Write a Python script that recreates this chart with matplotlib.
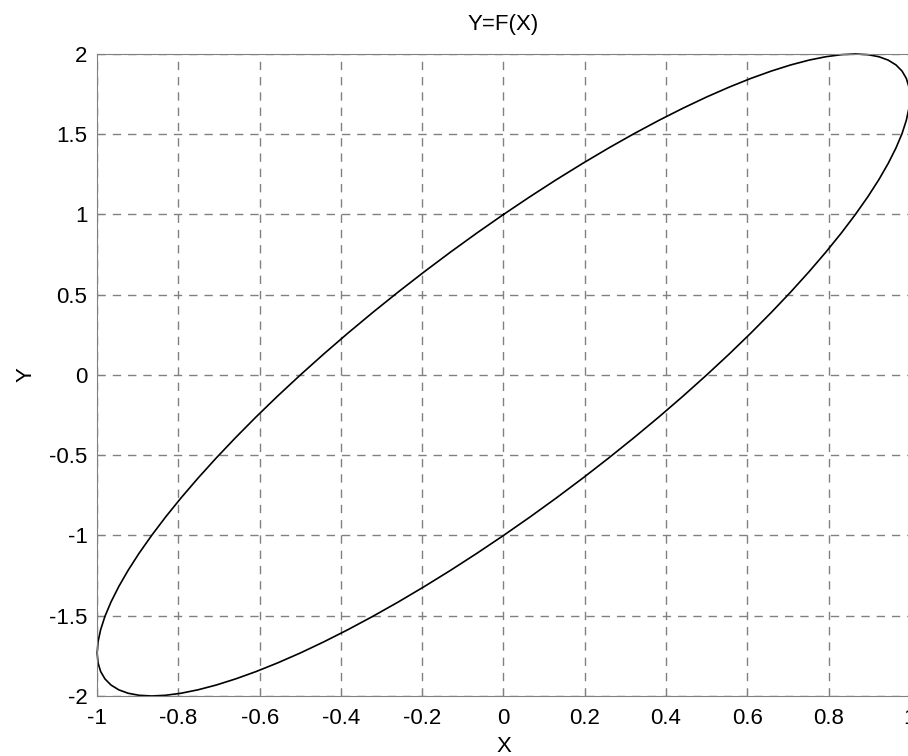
import matplotlib
matplotlib.use('Agg')
import matplotlib.pyplot as plt

# points (upper-right half, then lower-left half)
x_pts = [0.0, 0.0654, 0.1305, 0.1951, 0.2588, 0.3214, 0.3827, 0.4423, 0.5, 0.5556,
         0.6088, 0.6593, 0.7071, 0.7518, 0.7934, 0.8315, 0.866, 0.8969, 0.9239, 0.9469,
         0.9659, 0.9808, 0.9914, 0.9979, 1.0, 0.9979, 0.9914, 0.9808, 0.9659, 0.9469,
         0.9239, 0.8969, 0.866, 0.8315, 0.7934, 0.7518, 0.7071, 0.6593, 0.6088, 0.5556,
         0.5, 0.4423, 0.3827, 0.3214, 0.2588, 0.1951, 0.1305, 0.0654,
         0.0, -0.0654, -0.1305, -0.1951, -0.2588, -0.3214, -0.3827, -0.4423, -0.5, -0.5556,
         -0.6088, -0.6593, -0.7071, -0.7518, -0.7934, -0.8315, -0.866, -0.8969, -0.9239, -0.9469,
         -0.9659, -0.9808, -0.9914, -0.9979, -1.0, -0.9979, -0.9914, -0.9808, -0.9659, -0.9469,
         -0.9239, -0.8969, -0.866, -0.8315, -0.7934, -0.7518, -0.7071, -0.6593, -0.6088, -0.5556,
         -0.5, -0.4423, -0.3827, -0.3214, -0.2588, -0.1951, -0.1305, -0.0654, 0.0]
y_pts = [1.0, 1.1111, 1.2175, 1.3186, 1.4142, 1.5036, 1.5867, 1.6629, 1.7321, 1.7937,
         1.8478, 1.8937, 1.9319, 1.9616, 1.9829, 1.9957, 2.0, 1.9957, 1.9829, 1.9616,
         1.9319, 1.8937, 1.8478, 1.7937, 1.7321, 1.6629, 1.5867, 1.5036, 1.4142, 1.3186,
         1.2175, 1.1111, 1.0, 0.8846, 0.7654, 0.6428, 0.5176, 0.3902, 0.2611, 0.1308,
         0.0, -0.1308, -0.2611, -0.3902, -0.5176, -0.6428, -0.7654, -0.8846,
         -1.0, -1.1111, -1.2175, -1.3186, -1.4142, -1.5036, -1.5867, -1.6629, -1.7321, -1.7937,
         -1.8478, -1.8937, -1.9319, -1.9616, -1.9829, -1.9957, -2.0, -1.9957, -1.9829, -1.9616,
         -1.9319, -1.8937, -1.8478, -1.7937, -1.7321, -1.6629, -1.5867, -1.5036, -1.4142, -1.3186,
         -1.2175, -1.1111, -1.0, -0.8846, -0.7654, -0.6428, -0.5176, -0.3902, -0.2611, -0.1308,
         0.0, 0.1308, 0.2611, 0.3902, 0.5176, 0.6428, 0.7654, 0.8846, 1.0]

x_ticks = [-1, -0.8, -0.6, -0.4, -0.2, 0, 0.2, 0.4, 0.6, 0.8, 1]
y_ticks = [-2, -1.5, -1, -0.5, 0, 0.5, 1, 1.5, 2]
x_labels = ['-1', '-0.8', '-0.6', '-0.4', '-0.2', '0', '0.2', '0.4', '0.6', '0.8', '1']
y_labels = ['-2', '-1.5', '-1', '-0.5', '0', '0.5', '1', '1.5', '2']

plt.rcParams['font.family'] = ['Liberation Sans', 'DejaVu Sans']

fig = plt.figure(figsize=(9.08, 7.56), dpi=100)
ax = fig.add_axes([0.107, 0.0794, 0.895, 0.8492])
ax.plot(x_pts, y_pts, color='black', linewidth=1.2, clip_on=False)
ax.set_xlim(-1, 1)
ax.set_ylim(-2, 2)
ax.set_xticks(x_ticks)
ax.set_yticks(y_ticks)
ax.set_xticklabels(x_labels)
ax.set_yticklabels(y_labels)
ax.grid(True, linestyle=(0, (6, 5)), color='#808080', linewidth=1.0)
ax.tick_params(direction='in', length=5, labelsize=16, color='#808080')
ax.tick_params(axis='x', pad=9)
ax.tick_params(axis='y', pad=7)
for s in ax.spines.values():
    s.set_color('#808080')
ax.set_title('Y=F(X)', fontsize=16, pad=17)
ax.set_xlabel('X', fontsize=16, labelpad=5)
ax.set_ylabel('Y', fontsize=16, labelpad=9)

fig.savefig('out.png', dpi=100)
